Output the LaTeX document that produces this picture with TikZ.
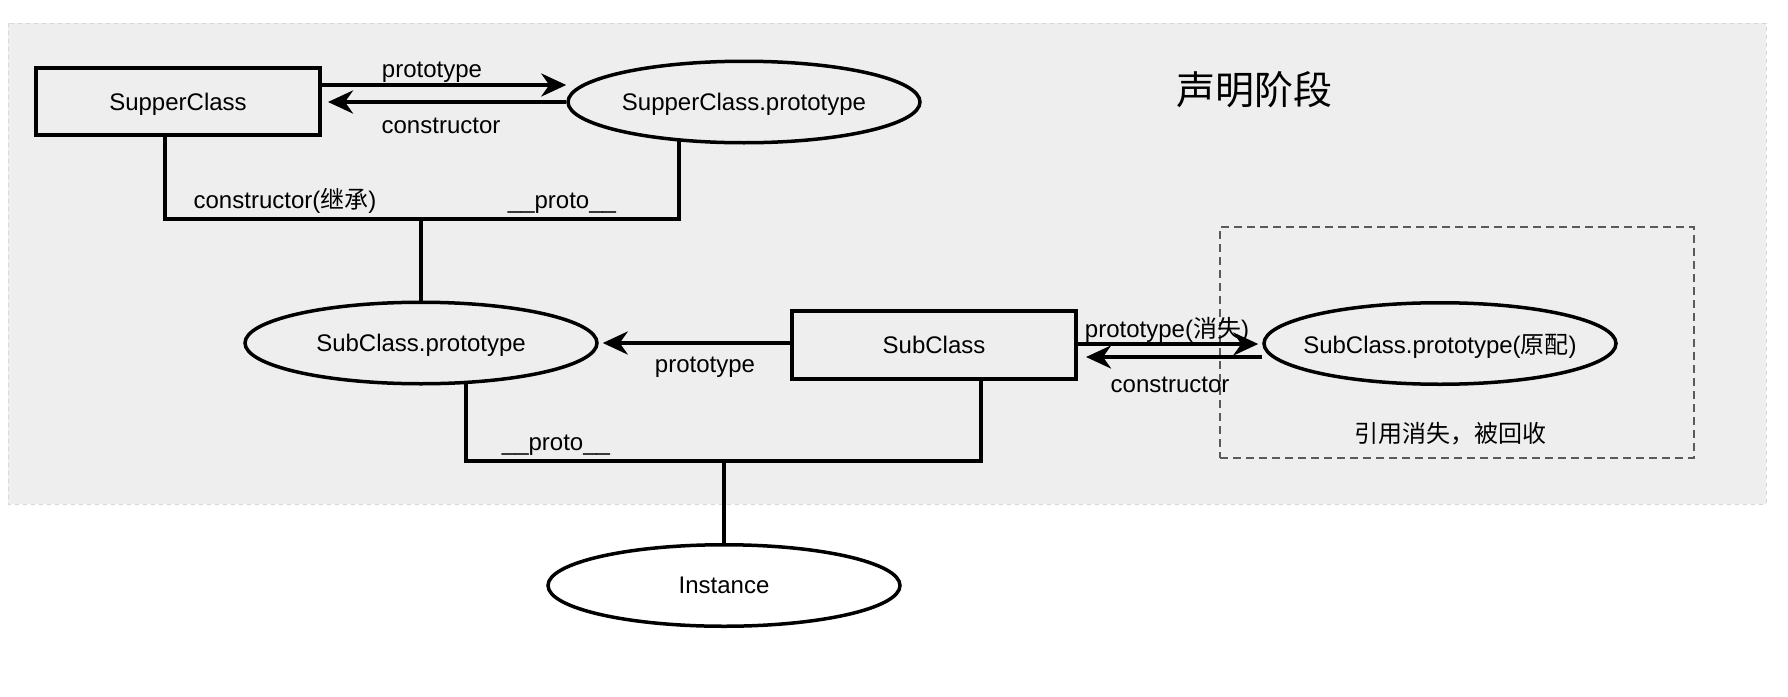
\documentclass[tikz,border=0pt]{standalone}
\usepackage{fontspec}
\setmainfont{Liberation Sans}
\newfontfamily\cjk{Noto Sans CJK SC}
\usetikzlibrary{arrows.meta,shapes.geometric}
\pgfdeclarelayer{back}
\pgfdeclarelayer{lines}
\pgfsetlayers{back,lines,main}
\definecolor{bggray}{HTML}{EEEEEE}
\definecolor{bgedge}{HTML}{D6D6D6}
\definecolor{dashgray}{HTML}{5A5A5A}
\newcommand{\ztext}[1]{\makebox[0pt]{#1}}
\begin{document}
\begin{tikzpicture}[x=0.5pt,y=-0.5pt,
  font=\fontsize{12pt}{14pt}\selectfont,
  clsbox/.style={draw,line width=2pt,fill=bggray,rectangle,minimum width=142pt,minimum height=33.75pt,inner sep=0pt,text depth=0pt},
  objell/.style={draw,line width=1.75pt,fill=bggray,ellipse,minimum width=176pt,minimum height=40.75pt,inner sep=0pt,text depth=0pt},
  lbl/.style={anchor=base,inner sep=0pt},
  arr/.style={line width=2pt,-{Stealth[length=12.5pt,width=11.5pt,inset=4pt]}},
  conn/.style={line width=2pt},
  gcbox/.style={draw=dashgray,line width=0.75pt,dash pattern=on 4pt off 2.5pt,rectangle,minimum width=237pt,minimum height=115.5pt,inner sep=0pt}
]
\useasboundingbox (0,0) rectangle (1788,696);
\begin{pgfonlayer}{back}
  \draw[fill=bggray,draw=bgedge,line width=0.5pt,dash pattern=on 2pt off 2pt] (8,23) rectangle (1766,504);
\end{pgfonlayer}

% nodes
\node[clsbox] (sc) at (178,101.5) {SupperClass};
\node[objell] (scp) at (744,102) {\ztext{SupperClass.prototype}};
\node[objell] (subp) at (421,343) {\ztext{SubClass.prototype}};
\node[clsbox] (sub) at (934,345) {SubClass};
\node[gcbox] (gc) at (1457,342.5) {};
\node[objell] (orig) at (1440,343.5) {\ztext{SubClass.prototype({\cjk 原配})}};
\node[objell,fill=white] (inst) at (724,585.5) {\ztext{Instance}};
\node (ttl) at (1254,90) {\fontsize{19.5pt}{22pt}\selectfont\cjk 声明阶段};

% connectors (behind nodes)
\begin{pgfonlayer}{lines}
  \draw[conn] (sc -| 165,0) |- (679,219) -- (scp -| 679,0);
  \draw[conn] (subp |- 0,219) -- (subp);
  \draw[conn] (subp -| 466,0) |- (981,461) -- (sub -| 981,0);
  \draw[conn] (inst |- 0,461) -- (inst);
\end{pgfonlayer}

% arrows
\draw[arr] (sc.east |- 0,85) -- (scp.west |- 0,85);
\draw[arr,shorten >=3pt] (scp.west |- 0,102) -- (sc.east |- 0,102);
\draw[arr,shorten >=2pt] (sub.west |- 0,343) -- (subp.east |- 0,343);
\draw[arr,shorten >=2pt] (sub.east |- 0,344) -- (orig.west |- 0,344);
\draw[arr,shorten >=4pt] (orig.west |- 0,357) -- (sub.east |- 0,357);

% labels
\node[lbl] (l1) at (432,77) {prototype};
\node[lbl] (l2) at (441,133) {constructor};
\node[lbl] (l3) at (285,208) {constructor({\cjk 继承})};
\node[lbl] (l4) at (562,208) {\_\_proto\_\_};
\node[lbl] (l5) at (705,372) {prototype};
\node[lbl] (l6) at (556,450) {\_\_proto\_\_};
\node[lbl] (l7) at (1167,337) {prototype({\cjk 消失})};
\node[lbl] (l8) at (1170,392) {constructor};
\node (l9) at (1450,434) {\cjk 引用消失，被回收};
\end{tikzpicture}
\end{document}
